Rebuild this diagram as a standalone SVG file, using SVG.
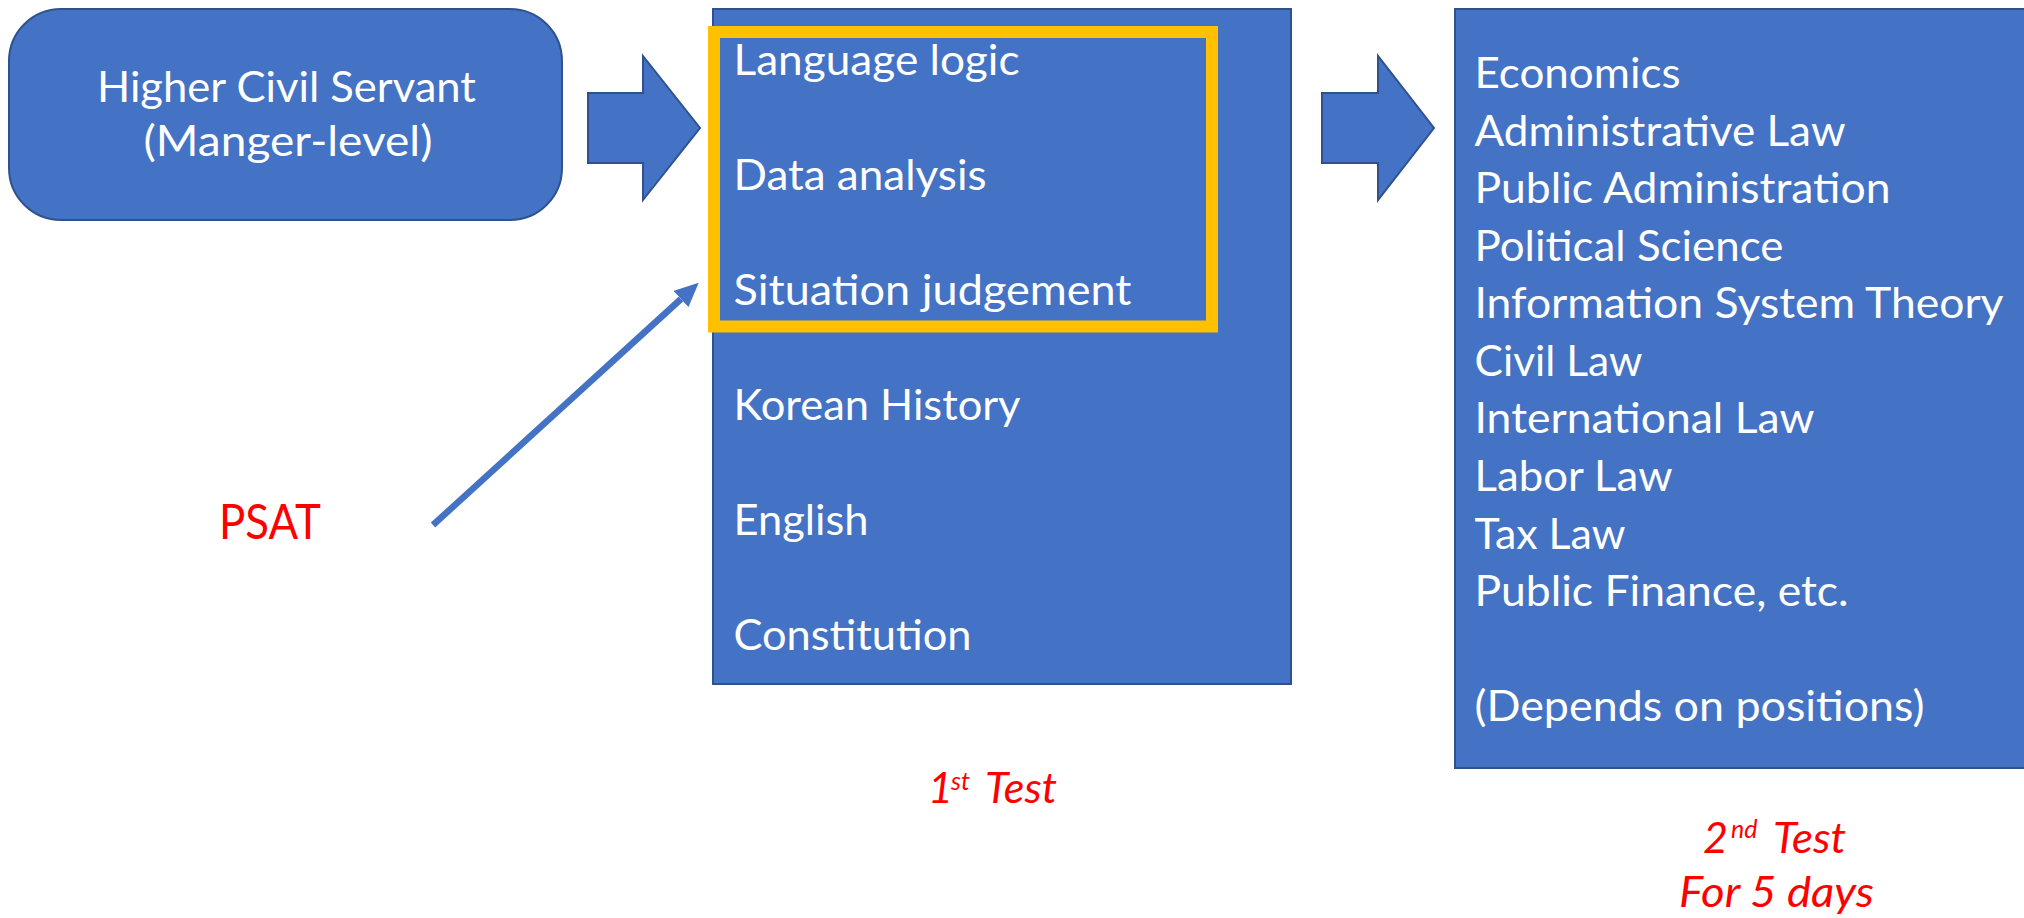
<svg xmlns="http://www.w3.org/2000/svg" width="2024" height="918" viewBox="0 0 2024 918">
  <style>
    .box { fill: #4472C4; stroke: #2F528F; stroke-width: 2; }
    .block { fill: #4472C4; stroke: #2F528F; stroke-width: 2; stroke-linejoin: miter; }
    .hl { fill: none; stroke: #FFC000; stroke-width: 12; }
    .w { font-family: Lato, "Open Sans", "Liberation Sans", sans-serif; font-size: 43px; fill: #FFFFFF; }
    .red { font-family: Lato, "Open Sans", "Liberation Sans", sans-serif; fill: #FF0000; }
    .it { font-style: italic; font-size: 43px; }
    .sup { font-size: 25px; }
  </style>
  <defs>
    <marker id="head" markerUnits="userSpaceOnUse" markerWidth="24" markerHeight="22" refX="0" refY="11" orient="auto">
      <path d="M0,0 L24,11 L0,22 Z" fill="#4472C4"/>
    </marker>
  </defs>

  <rect width="2024" height="918" fill="#FFFFFF"/>

  <!-- start: civil servant grade -->
  <g id="node-servant">
    <rect class="box" x="9" y="9" width="553" height="211" rx="52" ry="52"/>
    <text class="w" text-anchor="middle">
      <tspan x="292" y="102" textLength="379" lengthAdjust="spacingAndGlyphs">Higher Civil Servant</tspan>
      <tspan x="288" y="156" textLength="289" lengthAdjust="spacingAndGlyphs">(Manger-level)</tspan>
    </text>
  </g>

  <!-- first exam subjects -->
  <g id="node-test1">
    <rect class="box" x="713" y="9" width="578" height="675"/>
    <rect class="hl" x="714" y="32" width="498" height="294.5"/>
    <g class="w">
      <text x="733.5" y="75" textLength="286" lengthAdjust="spacingAndGlyphs">Language logic</text>
      <text x="733.5" y="190" textLength="253" lengthAdjust="spacingAndGlyphs">Data analysis</text>
      <text x="733.5" y="305" textLength="398" lengthAdjust="spacingAndGlyphs">Situation judgement</text>
      <text x="733.5" y="420" textLength="287" lengthAdjust="spacingAndGlyphs">Korean History</text>
      <text x="733.5" y="535" textLength="135" lengthAdjust="spacingAndGlyphs">English</text>
      <text x="733.5" y="650" textLength="238" lengthAdjust="spacingAndGlyphs">Constitution</text>
    </g>
  </g>

  <!-- second exam subjects -->
  <g id="node-test2">
    <rect class="box" x="1455" y="9" width="600" height="759"/>
    <g class="w">
      <text x="1474.5" y="88" textLength="206" lengthAdjust="spacingAndGlyphs">Economics</text>
      <text x="1474.5" y="146" textLength="371" lengthAdjust="spacingAndGlyphs">Administrative Law</text>
      <text x="1474.5" y="203" textLength="416" lengthAdjust="spacingAndGlyphs">Public Administration</text>
      <text x="1474.5" y="261" textLength="309" lengthAdjust="spacingAndGlyphs">Political Science</text>
      <text x="1474.5" y="318" textLength="529" lengthAdjust="spacingAndGlyphs">Information System Theory</text>
      <text x="1474.5" y="376" textLength="168" lengthAdjust="spacingAndGlyphs">Civil Law</text>
      <text x="1474.5" y="433" textLength="340" lengthAdjust="spacingAndGlyphs">International Law</text>
      <text x="1474.5" y="491" textLength="198" lengthAdjust="spacingAndGlyphs">Labor Law</text>
      <text x="1474.5" y="549" textLength="151" lengthAdjust="spacingAndGlyphs">Tax Law</text>
      <text x="1474.5" y="606" textLength="374" lengthAdjust="spacingAndGlyphs">Public Finance, etc.</text>
      <text x="1474.5" y="721" textLength="450" lengthAdjust="spacingAndGlyphs">(Depends on positions)</text>
    </g>
  </g>

  <!-- PSAT label -->
  <g id="node-psat">
    <text class="red" x="219" y="539" font-size="47.5" textLength="102" lengthAdjust="spacingAndGlyphs">PSAT</text>
  </g>

  <!-- stage captions -->
  <g id="label-test1">
    <text class="red it"><tspan x="928" y="803">1</tspan><tspan class="sup" x="951" y="790">st </tspan><tspan x="985" y="803" textLength="72" lengthAdjust="spacingAndGlyphs">Test</tspan></text>
  </g>
  <g id="label-test2">
    <text class="red it"><tspan x="1703" y="853">2</tspan><tspan class="sup" x="1731" y="838">nd </tspan><tspan x="1773" y="853" textLength="73" lengthAdjust="spacingAndGlyphs">Test</tspan></text>
    <text class="red it" x="1679" y="907" textLength="195" lengthAdjust="spacingAndGlyphs">For 5 days</text>
  </g>

  <!-- connectors -->
  <g id="connectors">
    <polygon class="block" points="588,93 643,93 643,56 700,128 643,200 643,163 588,163"/>
    <polygon class="block" points="1322,93 1378,93 1378,56 1434,128 1378,200 1378,163 1322,163"/>
    <line x1="433" y1="525" x2="681" y2="299" stroke="#4472C4" stroke-width="6.5" marker-end="url(#head)"/>
  </g>
</svg>
